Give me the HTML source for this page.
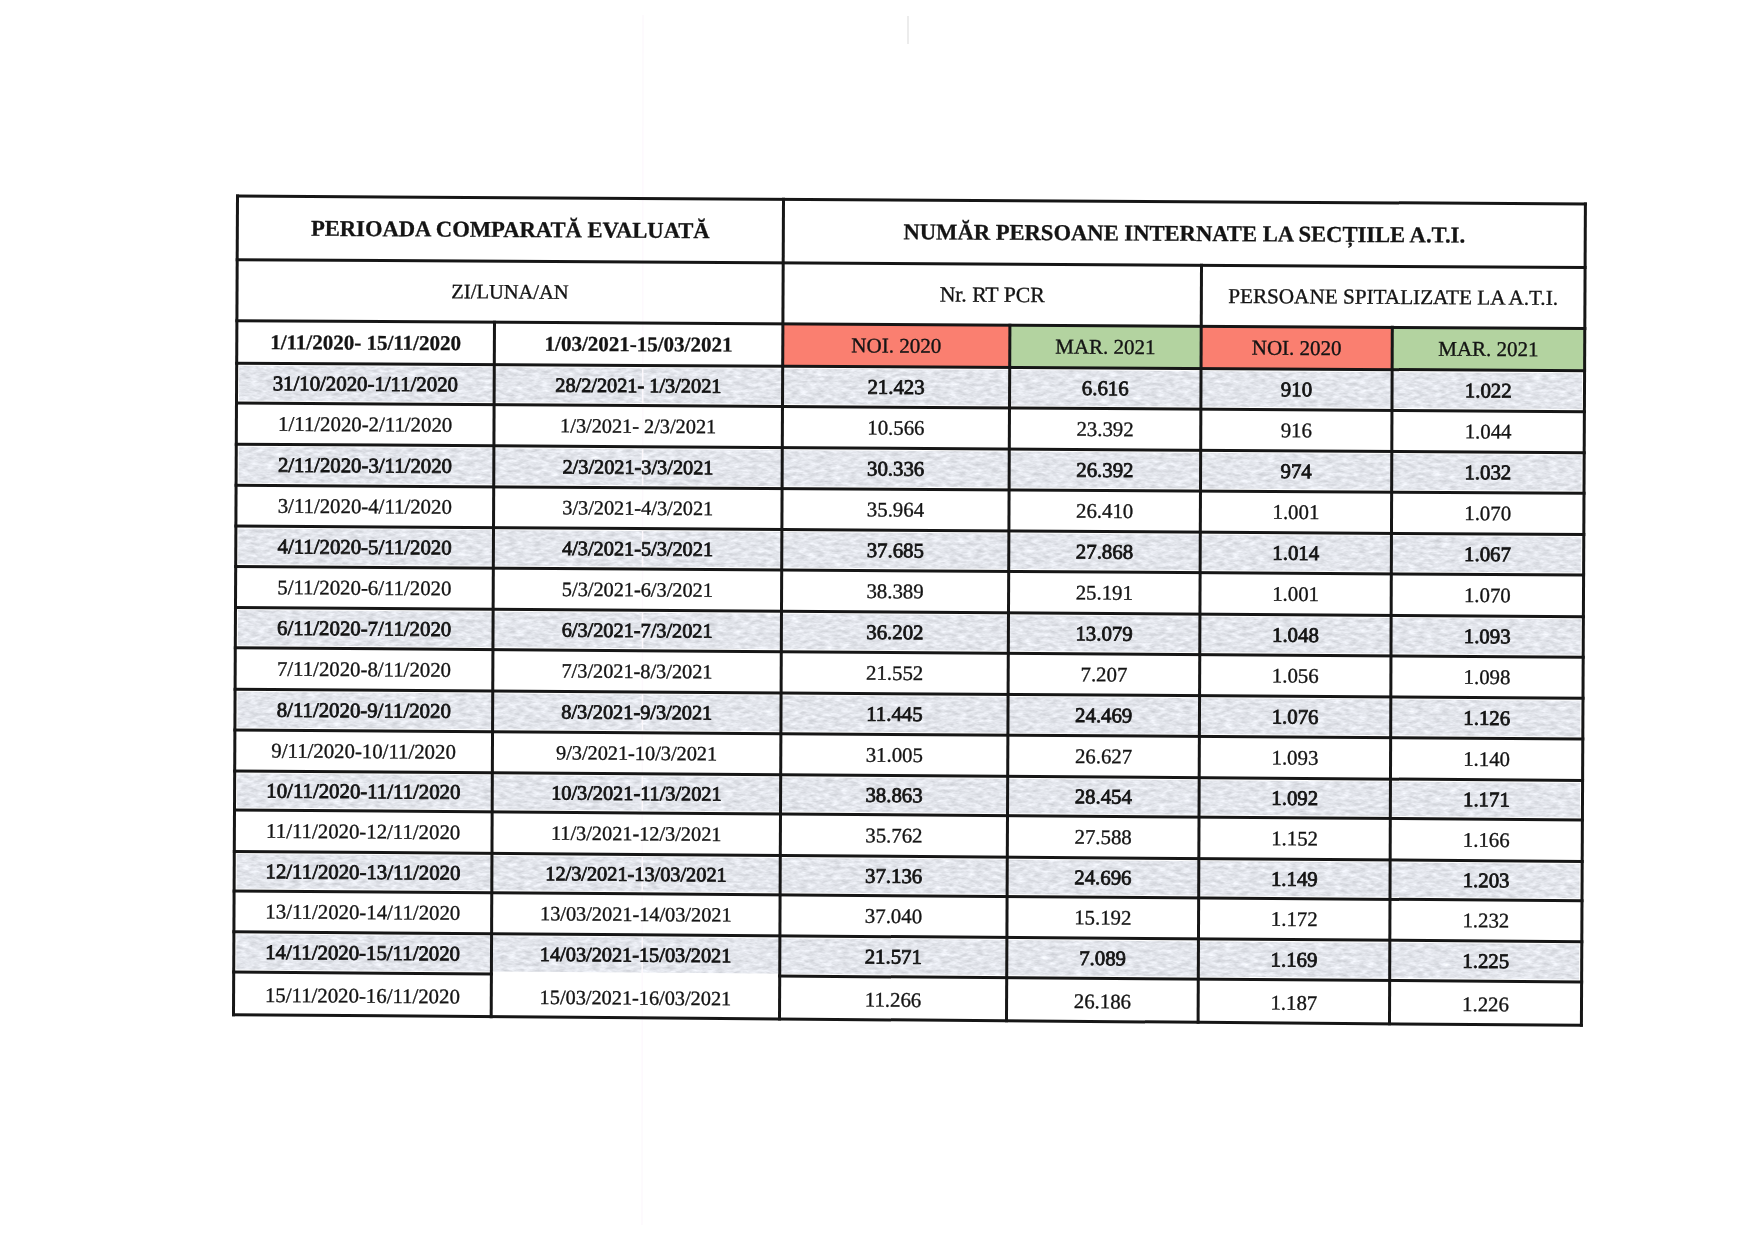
<!DOCTYPE html>
<html><head><meta charset="utf-8"><style>
html,body{margin:0;padding:0;background:#fff;}
body{width:1754px;height:1242px;overflow:hidden;}
svg{position:absolute;left:0;top:0;}
text{font-family:"Liberation Serif",serif;fill:#141414;text-anchor:middle;}
.sb{stroke:#141414;stroke-width:0.8px;}
.rg{stroke:#141414;stroke-width:0.35px;}
.bs{stroke:#141414;stroke-width:0.3px;}
svg{will-change:transform;}
</style></head><body>
<svg width="1754" height="1242" viewBox="0 0 1754 1242">
<defs><filter id="tex" x="0" y="0" width="100%" height="100%" color-interpolation-filters="sRGB">
<feTurbulence type="fractalNoise" baseFrequency="0.12 0.3" numOctaves="3" seed="7" result="n"/>
<feColorMatrix in="n" type="matrix" values="0.24 0 0 0 0.77  0.24 0 0 0 0.78  0.24 0 0 0 0.805  0 0 0 0 1" result="c"/>
<feComposite in="c" in2="SourceGraphic" operator="in"/>
</filter></defs>
<g><polygon points="782.89,323.89 1009.90,325.18 1009.69,367.47 782.68,366.21" fill="#fa7f70"/><polygon points="1009.90,325.18 1201.22,326.27 1201.04,368.52 1009.69,367.47" fill="#b3d3a0"/><polygon points="1201.22,326.27 1392.30,327.36 1392.13,369.58 1201.04,368.52" fill="#fa7f70"/><polygon points="1392.30,327.36 1584.79,328.45 1584.59,370.65 1392.13,369.58" fill="#b3d3a0"/><polygon points="239.18,365.69 1582.09,373.15 1581.89,409.18 238.99,400.55" fill="#dcdee3" filter="url(#tex)"/><polygon points="238.79,446.65 1581.69,455.28 1581.49,490.76 238.59,482.77" fill="#dcdee3" filter="url(#tex)"/><polygon points="238.39,528.45 1581.29,537.08 1581.09,572.58 238.19,564.05" fill="#dcdee3" filter="url(#tex)"/><polygon points="237.99,610.03 1580.89,619.19 1580.69,654.80 237.79,645.32" fill="#dcdee3" filter="url(#tex)"/><polygon points="237.59,691.73 1580.49,700.79 1580.29,736.59 237.39,727.43" fill="#dcdee3" filter="url(#tex)"/><polygon points="237.19,773.52 1580.09,782.90 1579.90,817.42 237.00,807.40" fill="#dcdee3" filter="url(#tex)"/><polygon points="236.80,854.00 1579.70,863.91 1579.51,898.21 236.61,888.40" fill="#dcdee3" filter="url(#tex)"/><polygon points="236.41,934.30 1579.31,944.21 1579.11,979.40 236.21,969.60" fill="#dcdee3" filter="url(#tex)"/></g>
<line x1="643" y1="15" x2="642" y2="1225" stroke="#fdf9fd" stroke-width="1.5"/>
<line x1="908" y1="16" x2="908" y2="44" stroke="#e6e6e6" stroke-width="1.5"/>
<g stroke="#161616" stroke-width="3.0" stroke-linecap="butt"><line x1="236.00" y1="196.07" x2="1586.90" y2="203.97"/><line x1="235.69" y1="259.67" x2="1586.59" y2="267.57"/><line x1="235.39" y1="320.77" x2="1586.29" y2="328.46"/><line x1="235.18" y1="363.18" x2="1586.09" y2="370.66"/><line x1="234.99" y1="403.04" x2="1585.89" y2="411.69"/><line x1="234.79" y1="444.14" x2="1585.69" y2="452.79"/><line x1="234.59" y1="485.26" x2="1585.49" y2="493.27"/><line x1="234.39" y1="525.94" x2="1585.29" y2="534.59"/><line x1="234.19" y1="566.54" x2="1585.09" y2="575.09"/><line x1="233.99" y1="607.52" x2="1584.89" y2="616.71"/><line x1="233.79" y1="647.81" x2="1584.69" y2="657.31"/><line x1="233.59" y1="689.22" x2="1584.49" y2="698.30"/><line x1="233.39" y1="729.92" x2="1584.29" y2="739.10"/><line x1="233.19" y1="771.01" x2="1584.09" y2="780.41"/><line x1="233.00" y1="809.89" x2="1583.90" y2="819.93"/><line x1="232.80" y1="851.49" x2="1583.70" y2="861.42"/><line x1="232.61" y1="890.89" x2="1583.51" y2="900.72"/><line x1="232.41" y1="931.79" x2="1583.31" y2="941.72"/><line x1="232.21" y1="972.09" x2="492.90" y2="973.98"/><line x1="778.21" y1="976.06" x2="1583.11" y2="981.91"/><line x1="232.00" y1="1014.66" x2="1582.90" y2="1025.34"/><line x1="237.51" y1="194.58" x2="233.49" y2="1016.17"/><line x1="783.51" y1="197.77" x2="779.49" y2="1020.49"/><line x1="1585.41" y1="202.47" x2="1581.39" y2="1026.83"/><line x1="494.50" y1="320.75" x2="491.18" y2="1018.21"/><line x1="1009.91" y1="323.68" x2="1006.49" y2="1022.28"/><line x1="1392.31" y1="325.86" x2="1389.49" y2="1025.31"/><line x1="1201.51" y1="263.82" x2="1198.09" y2="1023.80"/></g>
<g><text x="510.34" y="236.93" transform="rotate(0.335 510.34 229.48)" font-weight="bold" class="bs" font-size="22.6">PERIOADA COMPARATĂ EVALUATĂ</text><text x="1184.29" y="240.88" transform="rotate(0.335 1184.29 233.42)" font-weight="bold" class="bs" font-size="22.6">NUMĂR PERSOANE INTERNATE LA SECȚIILE A.T.I.</text><text x="510.04" y="298.57" transform="rotate(0.331 510.04 291.81)" class="rg" font-size="20.5">ZI/LUNA/AN</text><text x="992.20" y="301.75" transform="rotate(0.331 992.20 294.59)" class="rg" font-size="21.7">Nr. RT PCR</text><text x="1393.15" y="303.90" transform="rotate(0.331 1393.15 296.90)" class="rg" font-size="21.2">PERSOANE SPITALIZATE LA A.T.I.</text><text x="365.59" y="349.64" transform="rotate(0.322 365.59 342.71)" font-weight="bold" class="bs" font-size="21">1/11/2020- 15/11/2020</text><text x="638.59" y="351.17" transform="rotate(0.322 638.59 344.24)" font-weight="bold" class="bs" font-size="21">1/03/2021-15/03/2021</text><text x="896.29" y="352.62" transform="rotate(0.322 896.29 345.69)" class="rg" font-size="21">NOI. 2020</text><text x="1105.46" y="353.79" transform="rotate(0.322 1105.46 346.86)" class="rg" font-size="21">MAR. 2021</text><text x="1296.67" y="354.86" transform="rotate(0.322 1296.67 347.93)" class="rg" font-size="21">NOI. 2020</text><text x="1488.45" y="355.94" transform="rotate(0.322 1488.45 349.01)" class="rg" font-size="21">MAR. 2021</text><text x="365.39" y="390.75" transform="rotate(0.342 365.39 383.89)" class="sb" font-size="20.8">31/10/2020-1/11/2020</text><text x="638.39" y="392.22" transform="rotate(0.342 638.39 385.52)" class="sb" font-size="20.3">28/2/2021- 1/3/2021</text><text x="896.09" y="393.92" transform="rotate(0.342 896.09 387.06)" class="sb" font-size="20.8">21.423</text><text x="1105.27" y="395.17" transform="rotate(0.342 1105.27 388.31)" class="sb" font-size="20.8">6.616</text><text x="1296.50" y="396.31" transform="rotate(0.342 1296.50 389.45)" class="sb" font-size="20.8">910</text><text x="1488.27" y="397.46" transform="rotate(0.342 1488.27 390.59)" class="sb" font-size="20.8">1.022</text><text x="365.20" y="431.29" transform="rotate(0.367 365.20 424.43)" class="rg" font-size="20.8">1/11/2020-2/11/2020</text><text x="638.20" y="432.87" transform="rotate(0.367 638.20 426.18)" class="rg" font-size="20.3">1/3/2021- 2/3/2021</text><text x="895.89" y="434.69" transform="rotate(0.367 895.89 427.83)" class="rg" font-size="20.8">10.566</text><text x="1105.08" y="436.03" transform="rotate(0.367 1105.08 429.17)" class="rg" font-size="20.8">23.392</text><text x="1296.32" y="437.25" transform="rotate(0.367 1296.32 430.39)" class="rg" font-size="20.8">916</text><text x="1488.09" y="438.48" transform="rotate(0.367 1488.09 431.62)" class="rg" font-size="20.8">1.044</text><text x="365.00" y="472.37" transform="rotate(0.353 365.00 465.50)" class="sb" font-size="20.8">2/11/2020-3/11/2020</text><text x="638.00" y="473.89" transform="rotate(0.353 638.00 467.19)" class="sb" font-size="20.3">2/3/2021-3/3/2021</text><text x="895.69" y="475.64" transform="rotate(0.353 895.69 468.78)" class="sb" font-size="20.8">30.336</text><text x="1104.89" y="476.93" transform="rotate(0.353 1104.89 470.07)" class="sb" font-size="20.8">26.392</text><text x="1296.15" y="478.11" transform="rotate(0.353 1296.15 471.25)" class="sb" font-size="20.8">974</text><text x="1487.90" y="479.29" transform="rotate(0.353 1487.90 472.43)" class="sb" font-size="20.8">1.032</text><text x="364.80" y="513.27" transform="rotate(0.353 364.80 506.40)" class="rg" font-size="20.8">3/11/2020-4/11/2020</text><text x="637.80" y="514.79" transform="rotate(0.353 637.80 508.09)" class="rg" font-size="20.3">3/3/2021-4/3/2021</text><text x="895.49" y="516.54" transform="rotate(0.353 895.49 509.68)" class="rg" font-size="20.8">35.964</text><text x="1104.69" y="517.83" transform="rotate(0.353 1104.69 510.97)" class="rg" font-size="20.8">26.410</text><text x="1295.97" y="519.01" transform="rotate(0.353 1295.97 512.15)" class="rg" font-size="20.8">1.001</text><text x="1487.72" y="520.19" transform="rotate(0.353 1487.72 513.33)" class="rg" font-size="20.8">1.070</text><text x="364.61" y="553.93" transform="rotate(0.365 364.61 547.07)" class="sb" font-size="20.8">4/11/2020-5/11/2020</text><text x="637.61" y="555.51" transform="rotate(0.365 637.61 548.81)" class="sb" font-size="20.3">4/3/2021-5/3/2021</text><text x="895.29" y="557.31" transform="rotate(0.365 895.29 550.45)" class="sb" font-size="20.8">37.685</text><text x="1104.50" y="558.64" transform="rotate(0.365 1104.50 551.78)" class="sb" font-size="20.8">27.868</text><text x="1295.80" y="559.86" transform="rotate(0.365 1295.80 553.00)" class="sb" font-size="20.8">1.014</text><text x="1487.54" y="561.08" transform="rotate(0.365 1487.54 554.22)" class="sb" font-size="20.8">1.067</text><text x="364.41" y="594.75" transform="rotate(0.376 364.41 587.89)" class="rg" font-size="20.8">5/11/2020-6/11/2020</text><text x="637.41" y="596.38" transform="rotate(0.376 637.41 589.68)" class="rg" font-size="20.3">5/3/2021-6/3/2021</text><text x="895.09" y="598.23" transform="rotate(0.376 895.09 591.37)" class="rg" font-size="20.8">38.389</text><text x="1104.31" y="599.61" transform="rotate(0.376 1104.31 592.74)" class="rg" font-size="20.8">25.191</text><text x="1295.63" y="600.86" transform="rotate(0.376 1295.63 594.00)" class="rg" font-size="20.8">1.001</text><text x="1487.36" y="602.12" transform="rotate(0.376 1487.36 595.25)" class="rg" font-size="20.8">1.070</text><text x="364.21" y="635.43" transform="rotate(0.396 364.21 628.57)" class="sb" font-size="20.8">6/11/2020-7/11/2020</text><text x="637.21" y="637.15" transform="rotate(0.396 637.21 630.46)" class="sb" font-size="20.3">6/3/2021-7/3/2021</text><text x="894.89" y="639.10" transform="rotate(0.396 894.89 632.24)" class="sb" font-size="20.8">36.202</text><text x="1104.12" y="640.55" transform="rotate(0.396 1104.12 633.68)" class="sb" font-size="20.8">13.079</text><text x="1295.45" y="641.87" transform="rotate(0.396 1295.45 635.01)" class="sb" font-size="20.8">1.048</text><text x="1487.18" y="643.20" transform="rotate(0.396 1487.18 636.33)" class="sb" font-size="20.8">1.093</text><text x="364.02" y="676.28" transform="rotate(0.394 364.02 669.41)" class="rg" font-size="20.8">7/11/2020-8/11/2020</text><text x="637.02" y="677.99" transform="rotate(0.394 637.02 671.29)" class="rg" font-size="20.3">7/3/2021-8/3/2021</text><text x="894.69" y="679.93" transform="rotate(0.394 894.69 673.06)" class="rg" font-size="20.8">21.552</text><text x="1103.93" y="681.36" transform="rotate(0.394 1103.93 674.50)" class="rg" font-size="20.8">7.207</text><text x="1295.28" y="682.68" transform="rotate(0.394 1295.28 675.82)" class="rg" font-size="20.8">1.056</text><text x="1487.00" y="684.00" transform="rotate(0.394 1487.00 677.14)" class="rg" font-size="20.8">1.098</text><text x="363.82" y="717.31" transform="rotate(0.387 363.82 710.45)" class="sb" font-size="20.8">8/11/2020-9/11/2020</text><text x="636.82" y="718.99" transform="rotate(0.387 636.82 712.30)" class="sb" font-size="20.3">8/3/2021-9/3/2021</text><text x="894.49" y="720.90" transform="rotate(0.387 894.49 714.04)" class="sb" font-size="20.8">11.445</text><text x="1103.73" y="722.32" transform="rotate(0.387 1103.73 715.45)" class="sb" font-size="20.8">24.469</text><text x="1295.10" y="723.61" transform="rotate(0.387 1295.10 716.74)" class="sb" font-size="20.8">1.076</text><text x="1486.81" y="724.90" transform="rotate(0.387 1486.81 718.04)" class="sb" font-size="20.8">1.126</text><text x="363.62" y="758.22" transform="rotate(0.394 363.62 751.36)" class="rg" font-size="20.8">9/11/2020-10/11/2020</text><text x="636.62" y="759.94" transform="rotate(0.394 636.62 753.24)" class="rg" font-size="20.3">9/3/2021-10/3/2021</text><text x="894.29" y="761.87" transform="rotate(0.394 894.29 755.01)" class="rg" font-size="20.8">31.005</text><text x="1103.54" y="763.31" transform="rotate(0.394 1103.54 756.45)" class="rg" font-size="20.8">26.627</text><text x="1294.93" y="764.63" transform="rotate(0.394 1294.93 757.76)" class="rg" font-size="20.8">1.093</text><text x="1486.63" y="765.95" transform="rotate(0.394 1486.63 759.08)" class="rg" font-size="20.8">1.140</text><text x="363.43" y="798.25" transform="rotate(0.412 363.43 791.39)" class="sb" font-size="20.8">10/11/2020-11/11/2020</text><text x="636.43" y="800.05" transform="rotate(0.412 636.43 793.35)" class="sb" font-size="20.3">10/3/2021-11/3/2021</text><text x="894.10" y="802.07" transform="rotate(0.412 894.10 795.20)" class="sb" font-size="20.8">38.863</text><text x="1103.35" y="803.57" transform="rotate(0.412 1103.35 796.71)" class="sb" font-size="20.8">28.454</text><text x="1294.76" y="804.95" transform="rotate(0.412 1294.76 798.09)" class="sb" font-size="20.8">1.092</text><text x="1486.45" y="806.33" transform="rotate(0.412 1486.45 799.46)" class="sb" font-size="20.8">1.171</text><text x="363.23" y="838.52" transform="rotate(0.423 363.23 831.65)" class="rg" font-size="20.8">11/11/2020-12/11/2020</text><text x="636.23" y="840.37" transform="rotate(0.423 636.23 833.67)" class="rg" font-size="20.3">11/3/2021-12/3/2021</text><text x="893.90" y="842.44" transform="rotate(0.423 893.90 835.57)" class="rg" font-size="20.8">35.762</text><text x="1103.16" y="843.99" transform="rotate(0.423 1103.16 837.12)" class="rg" font-size="20.8">27.588</text><text x="1294.59" y="845.40" transform="rotate(0.423 1294.59 838.54)" class="rg" font-size="20.8">1.152</text><text x="1486.27" y="846.82" transform="rotate(0.423 1486.27 839.95)" class="rg" font-size="20.8">1.166</text><text x="363.04" y="879.01" transform="rotate(0.419 363.04 872.14)" class="sb" font-size="20.8">12/11/2020-13/11/2020</text><text x="636.04" y="880.84" transform="rotate(0.419 636.04 874.14)" class="sb" font-size="20.3">12/3/2021-13/03/2021</text><text x="893.70" y="882.89" transform="rotate(0.419 893.70 876.02)" class="sb" font-size="20.8">37.136</text><text x="1102.97" y="884.42" transform="rotate(0.419 1102.97 877.55)" class="sb" font-size="20.8">24.696</text><text x="1294.41" y="885.82" transform="rotate(0.419 1294.41 878.95)" class="sb" font-size="20.8">1.149</text><text x="1486.09" y="887.22" transform="rotate(0.419 1486.09 880.36)" class="sb" font-size="20.8">1.203</text><text x="362.85" y="919.16" transform="rotate(0.419 362.85 912.29)" class="rg" font-size="20.8">13/11/2020-14/11/2020</text><text x="635.84" y="920.99" transform="rotate(0.419 635.84 914.29)" class="rg" font-size="20.3">13/03/2021-14/03/2021</text><text x="893.51" y="923.04" transform="rotate(0.419 893.51 916.17)" class="rg" font-size="20.8">37.040</text><text x="1102.79" y="924.57" transform="rotate(0.419 1102.79 917.70)" class="rg" font-size="20.8">15.192</text><text x="1294.24" y="925.97" transform="rotate(0.419 1294.24 919.10)" class="rg" font-size="20.8">1.172</text><text x="1485.91" y="927.37" transform="rotate(0.419 1485.91 920.50)" class="rg" font-size="20.8">1.232</text><text x="362.65" y="959.75" transform="rotate(0.419 362.65 952.89)" class="sb" font-size="20.8">14/11/2020-15/11/2020</text><text x="635.65" y="961.59" transform="rotate(0.419 635.65 954.89)" class="sb" font-size="20.3">14/03/2021-15/03/2021</text><text x="893.31" y="963.64" transform="rotate(0.419 893.31 956.77)" class="sb" font-size="20.8">21.571</text><text x="1102.60" y="965.17" transform="rotate(0.419 1102.60 958.30)" class="sb" font-size="20.8">7.089</text><text x="1294.07" y="966.57" transform="rotate(0.419 1294.07 959.70)" class="sb" font-size="20.8">1.169</text><text x="1485.73" y="967.97" transform="rotate(0.419 1485.73 961.10)" class="sb" font-size="20.8">1.225</text><text x="362.45" y="1002.73" transform="rotate(0.435 362.45 995.86)" class="rg" font-size="20.8">15/11/2020-16/11/2020</text><text x="635.45" y="1004.63" transform="rotate(0.435 635.45 997.94)" class="rg" font-size="20.3">15/03/2021-16/03/2021</text><text x="893.11" y="1006.75" transform="rotate(0.435 893.11 999.89)" class="rg" font-size="20.8">11.266</text><text x="1102.40" y="1008.34" transform="rotate(0.435 1102.40 1001.48)" class="rg" font-size="20.8">26.186</text><text x="1293.89" y="1009.80" transform="rotate(0.435 1293.89 1002.93)" class="rg" font-size="20.8">1.187</text><text x="1485.55" y="1011.25" transform="rotate(0.435 1485.55 1004.39)" class="rg" font-size="20.8">1.226</text></g>
</svg>
</body></html>
